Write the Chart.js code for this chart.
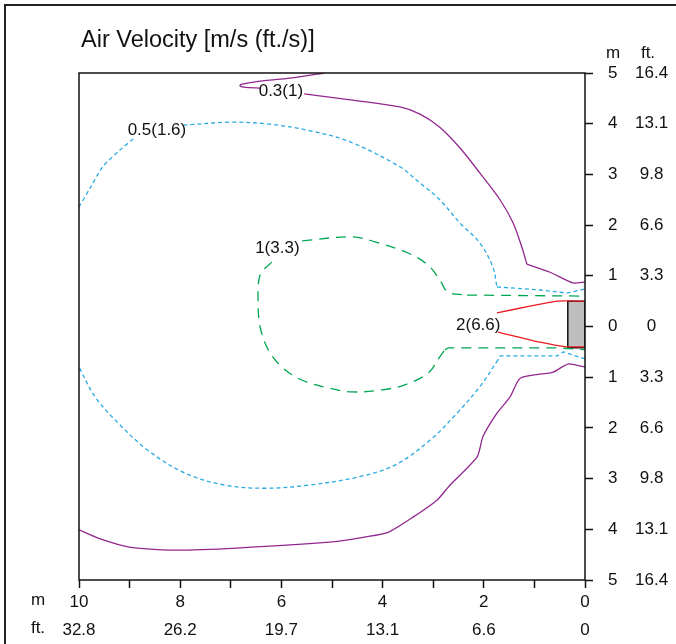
<!DOCTYPE html>
<html>
<head>
<meta charset="utf-8">
<script src="https://cdn.jsdelivr.net/npm/chart.js@4/dist/chart.umd.min.js"></script>
<style>
  html, body { margin: 0; padding: 0; background: #fff; }
  #wrap { position: relative; width: 676px; height: 644px; }
</style>
</head>
<body>
<div id="wrap"><canvas id="chart"></canvas></div>
<script>
// distance from outlet [m] and offset [m]
const xTicksFt = ['0', '6.6', '13.1', '19.7', '26.2', '32.8'];   // every 2 m
const yTicksFt = ['0', '3.3', '6.6', '9.8', '13.1', '16.4'];     // every 1 m

// 0.3 m/s (1 ft/s) contour
const v03Hook = [[5.15, 5.0], [5.83, 4.90], [6.42, 4.84], [6.78, 4.78], [6.82, 4.75], [6.74, 4.72], [6.40, 4.70]];
const v03Upper = [[5.55, 4.59], [4.64, 4.47], [3.66, 4.33], [3.26, 4.19], [2.87, 3.93], [2.47, 3.52], [2.08, 3.03],
  [1.68, 2.50], [1.42, 2.04], [1.23, 1.51], [1.15, 1.23]];
const v03Tip = [[1.15, 1.23], [0.69, 1.07], [0.24, 0.86], [0, 0.88]];
const v03Lower = [[0, -0.80], [0.34, -0.74], [0.63, -0.90], [1.28, -1.02], [1.48, -1.39], [1.74, -1.71], [2.02, -2.18],
  [2.13, -2.57], [2.67, -3.13], [2.92, -3.42], [3.40, -3.76], [3.89, -4.06], [4.33, -4.15], [5.00, -4.25],
  [6.88, -4.37], [8.16, -4.41], [9.01, -4.35], [9.58, -4.19], [10, -4.01]];

// 0.5 m/s (1.6 ft/s) contour
const v05Left = [[10, 2.36], [9.78, 2.73], [9.53, 3.15], [9.19, 3.48], [8.93, 3.70]];
const v05Upper = [[7.94, 3.97], [7.02, 4.03], [6.23, 3.99], [5.43, 3.86], [4.64, 3.64], [3.66, 3.15], [3.26, 2.83],
  [2.87, 2.50], [2.47, 2.04], [2.08, 1.65], [1.82, 1.17], [1.74, 0.78]];
const v05UpperTip = [[1.74, 0.78], [0.89, 0.72], [0.36, 0.66], [0, 0.74]];
const v05LowerTip = [[0, -0.64], [0.43, -0.50], [0.55, -0.58], [1.68, -0.58], [1.72, -0.66]];
const v05Lower = [[1.72, -0.66], [2.08, -1.19], [2.53, -1.71],
  [3.06, -2.24], [3.75, -2.73], [4.49, -2.97], [5.47, -3.13], [6.32, -3.19], [7.11, -3.13], [7.91, -2.89],
  [8.64, -2.44], [9.23, -1.90], [9.68, -1.39], [10, -0.80]];

// 1 m/s (3.3 ft/s) contour
const v1Upper = [[5.59, 1.69], [4.60, 1.77], [4.15, 1.67], [3.50, 1.45], [3.10, 1.21], [2.87, 0.92], [2.71, 0.68],
  [2.33, 0.62]];
const v1UpperTip = [[2.33, 0.62], [0, 0.60]];
const v1Lower = [[6.19, 1.27], [6.42, 1.02], [6.46, 0.46], [6.42, -0.01], [6.26, -0.46], [5.99, -0.80], [5.59, -1.06],
  [5.08, -1.21], [4.60, -1.29], [4.01, -1.25], [3.56, -1.15], [3.10, -0.92], [2.87, -0.60], [2.77, -0.46]];
const v1LowerTip = [[2.77, -0.46], [2.70, -0.42], [0.55, -0.42], [0, -0.46]];

// 2 m/s (6.6 ft/s) contour
const v2Upper = [[1.74, 0.27], [1.09, 0.40], [0.55, 0.50], [0, 0.50]];
const v2Lower = [[1.72, -0.11], [0.89, -0.31], [0.36, -0.40], [0, -0.40]];

// unit outlet
const outlet = [[0, 0.50], [0.34, 0.50], [0.34, -0.42], [0, -0.42], [0, 0.50]];

const contourLabels = [
  { text: '0.3(1)', x: 6.01, y: 4.63 },
  { text: '0.5(1.6)', x: 8.46, y: 3.87 },
  { text: '1(3.3)', x: 6.08, y: 1.54 },
  { text: '2(6.6)', x: 2.11, y: 0.03 }
];

const FONT = "'Liberation Sans', Arial, sans-serif";
const PURPLE = '#92278f';
const CYAN = '#29abe2';
const GREEN = '#00a651';
const RED = '#ed1c24';

function line(points, color, dash, tension, extra) {
  return Object.assign({
    data: points.map(p => ({ x: p[0], y: p[1] })),
    showLine: true,
    borderColor: color,
    borderWidth: 1.3,
    borderDash: dash || [],
    pointRadius: 0,
    fill: false,
    tension: tension || 0
  }, extra || {});
}

const framePlugin = {
  id: 'frame',
  beforeDraw(chart) {
    const ctx = chart.ctx;
    ctx.save();
    ctx.fillStyle = '#fff';
    ctx.fillRect(0, 0, chart.width, chart.height);
    ctx.strokeStyle = '#222';
    ctx.lineWidth = 2;
    ctx.strokeRect(5, 5, chart.width + 20, chart.height + 20);
    ctx.restore();
  },
  afterDatasetsDraw(chart) {
    const { ctx, chartArea: a, scales } = chart;
    ctx.save();
    ctx.fillStyle = '#111';
    ctx.font = '17px ' + FONT;
    ctx.textAlign = 'center';
    ctx.textBaseline = 'middle';
    contourLabels.forEach(l => {
      ctx.fillText(l.text, scales.x.getPixelForValue(l.x), scales.y.getPixelForValue(l.y));
    });
    ctx.strokeStyle = '#111';
    ctx.lineWidth = 1.5;
    ctx.strokeRect(a.left, a.top, a.right - a.left, a.bottom - a.top);
    ctx.restore();
  },
  afterDraw(chart) {
    const ctx = chart.ctx;
    ctx.save();
    ctx.fillStyle = '#111';
    ctx.textBaseline = 'alphabetic';
    ctx.textAlign = 'left';
    ctx.font = '23.5px ' + FONT;
    ctx.fillText('Air Velocity [m/s (ft./s)]', 81, 47);
    ctx.font = '17px ' + FONT;
    ctx.textAlign = 'center';
    ctx.textBaseline = 'middle';
    ctx.fillText('m', 613, 53);
    ctx.fillText('ft.', 648, 53);
    ctx.fillText('m', 38, 600);
    ctx.fillText('ft.', 38, 628);
    ctx.restore();
  }
};

new Chart(document.getElementById('chart'), {
  type: 'scatter',
  data: {
    datasets: [
      line(v03Hook, PURPLE, [], 0.3),
      line(v03Upper, PURPLE, [], 0.3),
      line(v03Tip, PURPLE, [], 0.2),
      line(v03Lower, PURPLE, [], 0.2),
      line(v05Left, CYAN, [4, 3], 0.3),
      line(v05Upper, CYAN, [4, 3], 0.35),
      line(v05UpperTip, CYAN, [4, 3], 0),
      line(v05LowerTip, CYAN, [4, 3], 0),
      line(v05Lower, CYAN, [4, 3], 0.35),
      line(v1Upper, GREEN, [10, 7], 0.35),
      line(v1UpperTip, GREEN, [10, 7], 0),
      line(v1Lower, GREEN, [10, 7], 0.35),
      line(v1LowerTip, GREEN, [10, 7], 0),
      line(v2Upper, RED, [], 0.2),
      line(v2Lower, RED, [], 0.2),
      line(outlet, '#111', [], 0, { fill: 'shape', backgroundColor: '#bebebe', borderWidth: 1.5 })
    ]
  },
  options: {
    responsive: true,
    maintainAspectRatio: false,
    animation: false,
    layout: { padding: { left: 79, top: 73, right: 0, bottom: 0 } },
    plugins: { legend: { display: false }, tooltip: { enabled: false }, title: { display: false } },
    scales: {
      x: {
        type: 'linear',
        position: 'bottom',
        reverse: true,
        min: 0,
        max: 10,
        afterFit: s => { s.height = 64; },
        border: { display: false },
        grid: { drawOnChartArea: false, drawTicks: true, tickLength: 8, tickColor: '#111', tickWidth: 1.5 },
        ticks: {
          stepSize: 1,
          autoSkip: false,
          maxRotation: 0,
          padding: 0,
          color: '#111',
          font: { family: FONT, size: 17, lineHeight: 1.65 },
          callback: v => (v % 2 === 0 ? [String(v), xTicksFt[v / 2]] : '')
        }
      },
      y: {
        type: 'linear',
        position: 'right',
        weight: 0,
        min: -5,
        max: 5,
        afterFit: s => { s.width = 47; },
        border: { display: false },
        grid: { drawOnChartArea: false, drawTicks: true, tickLength: 8, tickColor: '#111', tickWidth: 1.5 },
        ticks: {
          stepSize: 1,
          padding: 15,
          crossAlign: 'center',
          color: '#111',
          font: { family: FONT, size: 17 },
          callback: v => String(Math.abs(v))
        }
      },
      yFt: {
        type: 'linear',
        position: 'right',
        weight: 1,
        min: -5,
        max: 5,
        afterFit: s => { s.width = 44; },
        border: { display: false },
        grid: { display: false, drawTicks: false },
        ticks: {
          stepSize: 1,
          padding: 3,
          crossAlign: 'center',
          color: '#111',
          font: { family: FONT, size: 17 },
          callback: v => yTicksFt[Math.abs(v)]
        }
      }
    }
  },
  plugins: [framePlugin]
});
</script>
</body>
</html>
